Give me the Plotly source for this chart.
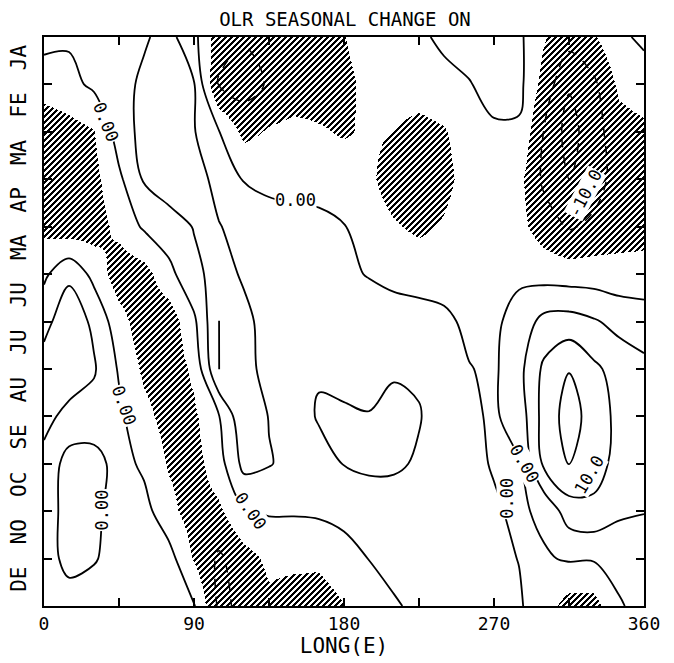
import numpy as np
import plotly.graph_objects as go

# ---- axes / categories ----
months = ["JA", "FE", "MA", "AP", "MA", "JU", "JU", "AU", "SE", "OC", "NO", "DE"]
lon_ticks = [0, 90, 180, 270, 360]
lon = [0, 15, 30, 45, 60, 75, 90, 105, 120, 135, 150, 165, 180,
       195, 210, 225, 240, 255, 270, 285, 300, 315, 330, 345, 360]
mpos = list(range(13))  # month boundaries: 0 = start of JA, 12 = end of DE

# ---- OLR seasonal change (W m-2), rows = month boundary ----
z_m00 = [1.8, 0.7, 3, 3.5, 4.5, 6.5, 1.5, -8, -9.5, -8, -7.5, -7, -5.2, -3, -2, -0.7, 0.8, 1.5, 2, 1, -4.5, -8, -5.5, -1, 1]
z_m01 = [-3, -1.5, 1, 3.5, 5.8, 7, 5.3, -10.5, -12, -9.5, -8, -7.5, -6, -4, -2.5, -2, -1.2, -0.2, 1.2, 1.5, -7, -14.5, -11, -4, -2.5]
z_m02 = [-8, -7, -5.3, 2.5, 6.5, 7.5, 5.3, 0.2, -6.5, -4.5, -3.5, -4.5, -5.5, -4.3, -5, -7, -5.5, -2.5, -0.5, -0.8, -10.2, -17, -12, -7, -6]
z_m03 = [-8, -9, -6.5, -1, 5.5, 7.5, 7, 3.5, -0.3, -1.5, -1.8, -1.5, -2.5, -4, -7.5, -9.5, -6.5, -3, -2, -3.5, -11, -15.3, -12, -8, -7]
z_m04 = [-6.5, -8, -7.5, -3.5, 0.7, 3, 5.2, 5.2, 3.5, 2.5, 1.8, 1, 0.2, -2.5, -4.5, -6, -4.5, -2.5, -2, -3.5, -7.5, -10.5, -9, -7.5, -6.5]
z_m05 = [-1, 4, -1.5, -8, -7, -1.5, 4, 6.5, 4.5, 3, 2, 1.5, 1, -0.3, -1.5, -2, -2, -1.5, -1.5, -1, -2, -2.5, -2.5, -3, -3.5]
z_m06 = [3.5, 8, 4, -3, -8, -8, -1, 10.2, 6, 3.5, 3, 3, 3, 3, 2.5, 2, 1, -1, -1, 2, 6.5, 7, 5.5, 3.5, 3]
z_m07 = [7, 8, 5.5, -0.5, -6, -8, -4, 10.2, 6.5, 3.5, 3.5, 4.8, 4.3, 4.2, 4.6, 4.3, 2, 0.2, -0.8, 3.5, 11, 14.8, 11, 8, 6]
z_m08 = [6.5, 3.5, 3, 1, -3.5, -7, -6, -0.2, 9, 4.8, 4, 5.2, 5.3, 5.1, 6, 5.3, 2.5, 0.8, -0.6, 2, 12, 17, 13, 8.5, 7]
z_m09 = [3.5, -2, -2, 2, -1, -5.5, -7, -2, 6.5, 5.3, 3.5, 4.2, 5.1, 6, 5.8, 4.4, 2.5, 1, -0.3, -0.4, 11, 15.3, 12.5, 8, 5.5]
z_m10 = [2, -1.5, -1, 2, 1.8, -3.5, -7.5, -6, -0.5, 0.5, 0.5, 0.8, 1.5, 2, 2.3, 2.5, 2, 1, 0.5, -0.8, 1.0, 7.5, 8.5, 6, 5.2]
z_m11 = [1.5, -1, -0.3, 1.5, 2, 2, -5.5, -10.8, -7, -4, -4, -4, -2, 0.1, 1.5, 2, 2, 1.5, 1, -0.1, -0.5, 0.5, 0.5, 1, 2]
z_m12 = [1.5, 1.5, 2, 2.5, 3, 2.5, 0.5, -11, -9, -6, -7, -7.5, -5.2, -2.5, -0.5, 1, 2, 2, 1.5, 0.5, -2.5, -7, -7, -0.3, 1]
zgrid = [z_m00, z_m01, z_m02, z_m03, z_m04, z_m05, z_m06,
         z_m07, z_m08, z_m09, z_m10, z_m11, z_m12]

hatch_below = -5.0

# ---- page geometry (page body has an 8px margin) ----
OFF = 8
FIG_W, FIG_H = 674 - OFF, 663 - OFF
PL, PT = 44 - OFF, 37 - OFF          # plot-area origin inside the figure
PW, PH = 600, 569                   # plot-area size in px

# ---- hatching of the region below the threshold (derived from the grid) ----
Z = np.array(zgrid, dtype=float)
xf = (np.arange(PW) + 0.5) * 360.0 / PW
yf = (np.arange(PH) + 0.5) * 12.0 / PH
tmp = np.array([np.interp(xf, lon, row) for row in Z])
zf = np.array([np.interp(yf, mpos, tmp[:, i]) for i in range(PW)]).T
ii, jj = np.meshgrid(np.arange(PW), np.arange(PH))
hatch = ((zf < hatch_below) & (((ii + jj) % 6) < 3)).astype(np.uint8)

fig = go.Figure()
fig.add_trace(go.Heatmap(
    z=hatch, x0=float(xf[0]), dx=360.0 / PW, y0=float(yf[0]), dy=12.0 / PH,
    colorscale=[[0, "rgba(255,255,255,0)"], [1, "rgb(0,0,0)"]],
    zmin=0, zmax=1, showscale=False, hoverinfo="skip"))

fig.add_trace(go.Contour(
    x=lon, y=mpos, z=zgrid, showscale=False, hoverinfo="skip",
    contours=dict(start=0, end=15, size=5, coloring="none"),
    line=dict(color="black", width=1.8, smoothing=1.0)))
fig.add_trace(go.Contour(
    x=lon, y=mpos, z=zgrid, showscale=False, hoverinfo="skip",
    contours=dict(start=-20, end=-10, size=5, coloring="none"),
    line=dict(color="black", width=1.5, dash="dash", smoothing=1.0)))

# ---- contour labels ----
lab_font = dict(family="DejaVu Sans Mono", size=17, color="black")
labels = [
    ("0.00", 37, 1.8, 68), ("0.00", 151, 3.44, 0), ("0.00", 48, 7.76, 70),
    ("0.00", 35, 9.98, -90), ("0.00", 124, 10.0, 55), ("0.00", 288, 8.99, 60),
    ("0.00", 278, 9.73, -90), ("10.0", 327, 9.24, -60), ("-10.0", 325, 3.3, -62),
]
for t, x, y, a in labels:
    fig.add_annotation(x=x, y=y, xref="x", yref="y", text=t, showarrow=False,
                       textangle=a, font=lab_font, bgcolor="white", borderpad=0)

mono = "DejaVu Sans Mono"
fig.update_layout(
    width=FIG_W, height=FIG_H,
    margin=dict(l=PL, r=FIG_W - PL - PW, t=PT, b=FIG_H - PT - PH, autoexpand=False),
    paper_bgcolor="white", plot_bgcolor="white",
    showlegend=False,
    title=dict(text="OLR SEASONAL CHANGE ON", x=(345 - OFF) / FIG_W, xref="container",
               y=1 - (19 - OFF) / FIG_H, yref="container", xanchor="center", yanchor="middle",
               font=dict(family=mono, size=19, color="black")),
    xaxis=dict(range=[0, 360], tickmode="array", tickvals=lon_ticks,
               ticktext=[str(v) for v in lon_ticks], automargin=False,
               ticks="inside", ticklen=8, tickwidth=1.5, tickcolor="black",
               showline=True, linewidth=2, linecolor="black", mirror="ticks",
               showgrid=False, zeroline=False,
               minor=dict(ticks="inside", ticklen=8, tickwidth=1.5, tickcolor="black",
                          tick0=0, dtick=45, showgrid=False),
               tickfont=dict(family=mono, size=18, color="black"),
               ticklabelstandoff=0,
               title=dict(text="LONG(E)", standoff=4,
                          font=dict(family=mono, size=21, color="black"))),
    yaxis=dict(range=[12, 0], tickmode="array", automargin=False,
               tickvals=[i + 0.5 for i in range(12)], ticktext=months,
               ticks="inside", ticklen=0, tickcolor="black",
               showline=True, linewidth=2, linecolor="black", mirror="ticks",
               showgrid=False, zeroline=False, tickangle=-90,
               minor=dict(ticks="inside", ticklen=8, tickwidth=1.5, tickcolor="black",
                          tickvals=list(range(13)), showgrid=False),
               tickfont=dict(family=mono, size=21, color="black"),
               ticklabelstandoff=8),
)

fig.write_html("out.html")
